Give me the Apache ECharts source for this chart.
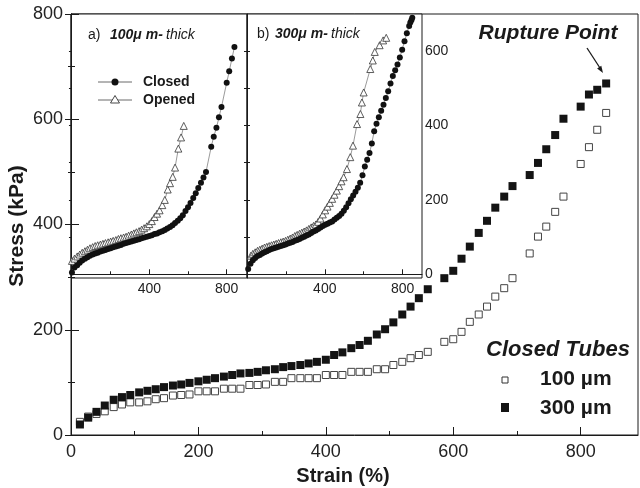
<!DOCTYPE html>
<html><head><meta charset="utf-8">
<script src="https://cdn.jsdelivr.net/npm/echarts@6/dist/echarts.min.js"></script>
<style>html,body{margin:0;padding:0;background:#fff}#c{width:640px;height:488px}</style>
</head><body><div id="c"></div>
<script>
// ---- main chart data (Closed tubes) ----
const strain = [14,27,40,53,67,80,93,107,120,133,146,160,173,186,200,213,226,240,253,266,280,293,306,320,333,346,360,373,386,400,413,426,440,453,466,480,493,506,520,533,546,560,586,600,613,626,640,653,666,680,693,720,733,746,760,773,800,813,826,840];
const stress100 = [25,35,40,45,53,58,62,62,64,68,70,75,76,77,83,83,83,88,88,88,95,95,96,101,101,108,108,108,108,114,114,114,120,120,120,125,125,133,139,146,152,158,177,182,196,215,229,244,263,279,298,345,377,396,424,453,515,547,580,612];
const stress300 = [20,33,44,56,67,72,76,81,84,87,91,94,96,99,102,105,108,111,114,117,118,120,123,125,129,131,133,136,139,143,152,157,165,171,179,191,201,214,229,244,260,277,298,312,335,358,384,407,432,453,473,494,517,543,570,601,624,647,656,668];
// ---- inset a) 100 um ----
const aClosedStrain = [0,13,27,40,53,67,80,93,107,120,133,147,160,173,187,200,213,227,240,253,267,280,293,307,320,333,347,360,373,387,400,413,427,440,453,467,480,493,507,520,533,547,560,573,587,600,613,627,640,653,667,680,693,720,733,747,760,773,800,813,827,840];
const aClosedStress = [5,18,24,31,37,42,46,50,53,56,58,61,63,65,68,70,73,75,77,79,82,84,86,88,90,92,94,97,99,101,103,105,108,110,113,116,119,123,127,132,138,144,151,159,170,180,192,205,218,232,246,260,275,343,370,394,422,450,515,546,580,611];
const aOpenStrain = [0,13,27,40,53,67,80,93,107,120,133,147,160,173,187,200,213,227,240,253,267,280,293,307,320,333,347,360,373,387,400,413,427,440,453,467,480,495,507,521,533,550,564,578];
const aOpenStress = [36,42,48,53,58,62,66,70,73,76,78,80,82,84,86,88,90,92,95,97,99,101,104,107,110,113,116,120,124,129,135,143,154,163,172,186,200,228,245,262,287,338,368,399];
// ---- inset b) 300 um ----
const bClosedStrain = [6,18,30,42,54,66,78,90,102,114,126,138,150,162,174,186,198,210,222,234,246,258,270,282,294,306,318,330,342,354,366,378,390,402,414,426,438,450,462,474,486,498,510,522,534,546,558,570,582,594,606,618,630,642,654,666,678,690,702,714,726,738,750,762,774,786,798,810,822,834,840,846,850];
const bClosedStress = [14,28,38,44,49,52,56,59,62,65,68,70,72,74,76,78,80,83,85,87,90,92,95,98,101,104,107,111,115,118,122,126,130,133,136,139,142,147,152,157,163,171,180,191,202,212,222,233,246,266,290,308,326,352,385,405,422,440,456,474,492,513,533,549,564,583,604,627,648,668,677,684,690];
const bOpenStrain = [20,30,42,54,66,78,90,102,114,126,138,150,162,174,186,198,210,222,234,246,258,270,282,294,306,318,330,342,354,366,378,390,402,414,426,438,450,462,474,486,497,514,531,545,566,583,591,600,634,647,657,682,700,716];
const bOpenStress = [50,55,59,63,66,69,72,74,76,78,80,82,84,86,88,90,93,96,99,103,106,109,112,115,118,122,126,130,134,141,150,161,172,182,192,203,214,225,237,250,261,283,315,346,404,431,462,489,552,575,598,616,629,636];
// ---- tick labels ----
const mainXTicks = [0,200,400,600,800];
const mainXMinor = [100,300,500,700];
const insetXTicks = [400,800];
const insetXMinor = [200,600];
const insetYLabels = [0,200,400,600];
const insetYTicks = [100,200,300,400,500,600];

const zip = (a, b) => a.map((v, i) => [v, b[i]]);
const FONT = 'Liberation Sans, Arial, sans-serif';
const ink = '#1a1a1a';

const chart = echarts.init(document.getElementById('c'));

function hiddenAxis(extra) {
  return Object.assign({
    type: 'value', axisLine: {show: false}, axisLabel: {show: false},
    axisTick: {show: false}, splitLine: {show: false}
  }, extra);
}

const option = {
  animation: false,
  backgroundColor: '#fff',
  grid: [
    {left: 71, top: 14, right: 2, bottom: 53, show: true, borderColor: ink, borderWidth: 1, backgroundColor: 'transparent'},
    {left: 71, top: 14, width: 176, height: 264, show: true, borderColor: ink, borderWidth: 1, backgroundColor: '#fff'},
    {left: 247, top: 14, width: 175, height: 264, show: true, borderColor: ink, borderWidth: 1, backgroundColor: '#fff'}
  ],
  xAxis: [
    {type: 'value', gridIndex: 0, min: 0, max: 890, position: 'bottom',
     axisLine: {show: true, lineStyle: {color: ink, width: 1}},
     axisTick: {show: true, inside: true, length: 8, customValues: [200,400,600,800], lineStyle: {color: ink}},
     axisLabel: {customValues: mainXTicks, fontSize: 18, color: '#222', fontFamily: FONT, margin: 8},
     splitLine: {show: false}},
    hiddenAxis({gridIndex: 0, min: 0, max: 890, position: 'bottom',
     axisTick: {show: true, inside: true, length: 4, customValues: mainXMinor, lineStyle: {color: ink}}}),
    {type: 'value', gridIndex: 1, min: -5, max: 905, position: 'bottom',
     axisLine: {show: true, lineStyle: {color: ink}},
     axisTick: {show: true, inside: true, length: 5, customValues: insetXTicks, lineStyle: {color: ink}},
     axisLabel: {customValues: insetXTicks, fontSize: 14, color: '#222', fontFamily: FONT, margin: 4},
     splitLine: {show: false}},
    hiddenAxis({gridIndex: 1, min: -5, max: 905, position: 'bottom',
     axisTick: {show: true, inside: true, length: 3, customValues: insetXMinor, lineStyle: {color: ink}}}),
    {type: 'value', gridIndex: 2, min: 0, max: 900, position: 'bottom',
     axisLine: {show: true, lineStyle: {color: ink}},
     axisTick: {show: true, inside: true, length: 5, customValues: insetXTicks, lineStyle: {color: ink}},
     axisLabel: {customValues: insetXTicks, fontSize: 14, color: '#222', fontFamily: FONT, margin: 4},
     splitLine: {show: false}},
    hiddenAxis({gridIndex: 2, min: 0, max: 900, position: 'bottom',
     axisTick: {show: true, inside: true, length: 3, customValues: insetXMinor, lineStyle: {color: ink}}})
  ],
  yAxis: [
    {type: 'value', gridIndex: 0, min: 0, max: 800, interval: 200, position: 'left',
     axisLine: {show: true, lineStyle: {color: ink}},
     axisTick: {show: true, inside: true, length: 8, lineStyle: {color: ink}},
     minorTick: {show: true, splitNumber: 2, length: 4, lineStyle: {color: ink}},
     axisLabel: {fontSize: 18, color: '#222', fontFamily: FONT, margin: 8},
     splitLine: {show: false}},
    {type: 'value', gridIndex: 0, min: 0, max: 800, interval: 200, position: 'right',
     axisLine: {show: true, lineStyle: {color: ink}},
     axisTick: {show: true, inside: true, length: 6, lineStyle: {color: ink}},
     minorTick: {show: true, splitNumber: 2, length: 3, lineStyle: {color: ink}},
     axisLabel: {show: false}, splitLine: {show: false}},
    hiddenAxis({gridIndex: 1, min: -10, max: 700, position: 'left'}),
    hiddenAxis({gridIndex: 1, min: -10, max: 700, position: 'right',
     axisTick: {show: true, inside: true, length: 3, customValues: insetYTicks, lineStyle: {color: ink}}}),
    hiddenAxis({gridIndex: 2, min: -10, max: 700, position: 'left',
     axisTick: {show: true, inside: true, length: 3, customValues: insetYTicks, lineStyle: {color: ink}}}),
    {type: 'value', gridIndex: 2, min: -10, max: 700, position: 'right',
     axisLine: {show: true, lineStyle: {color: ink}},
     axisTick: {show: true, inside: true, length: 3, customValues: insetYTicks, lineStyle: {color: ink}},
     axisLabel: {customValues: insetYLabels, fontSize: 14, color: '#222', fontFamily: FONT, margin: 3},
     splitLine: {show: false}}
  ],
  series: [
    {name: '100 µm', type: 'scatter', xAxisIndex: 0, yAxisIndex: 0, data: zip(strain, stress100),
     symbol: 'rect', symbolSize: 7, itemStyle: {color: '#fff', borderColor: '#444', borderWidth: 1, opacity: 1}},
    {name: '300 µm', type: 'scatter', xAxisIndex: 0, yAxisIndex: 0, data: zip(strain, stress300),
     symbol: 'rect', symbolSize: 8, itemStyle: {color: '#141414', opacity: 1}},
    {name: 'a Opened', type: 'line', xAxisIndex: 2, yAxisIndex: 2, data: zip(aOpenStrain, aOpenStress),
     symbol: 'triangle', symbolSize: 7, showSymbol: true, lineStyle: {color: '#555', width: 0.6},
     itemStyle: {color: '#fff', borderColor: '#333', borderWidth: 0.8, opacity: 1}},
    {name: 'a Closed', type: 'line', xAxisIndex: 2, yAxisIndex: 2, data: zip(aClosedStrain, aClosedStress),
     symbol: 'circle', symbolSize: 6, showSymbol: true, lineStyle: {color: '#555', width: 0.6},
     itemStyle: {color: '#111', opacity: 1}},
    {name: 'b Opened', type: 'line', xAxisIndex: 4, yAxisIndex: 4, data: zip(bOpenStrain, bOpenStress),
     symbol: 'triangle', symbolSize: 7, showSymbol: true, lineStyle: {color: '#555', width: 0.6},
     itemStyle: {color: '#fff', borderColor: '#333', borderWidth: 0.8, opacity: 1}},
    {name: 'b Closed', type: 'line', xAxisIndex: 4, yAxisIndex: 4, data: zip(bClosedStrain, bClosedStress),
     symbol: 'circle', symbolSize: 6, showSymbol: true, lineStyle: {color: '#555', width: 0.6},
     itemStyle: {color: '#111', opacity: 1}}
  ],
  graphic: [
    // axis titles
    {type: 'text', x: 343, y: 476, style: {text: 'Strain (%)', font: 'bold 20px ' + FONT, fill: ink, align: 'center', verticalAlign: 'middle'}},
    {type: 'text', x: 17, y: 226, rotation: Math.PI / 2, style: {text: 'Stress (kPa)', font: 'bold 21px ' + FONT, fill: ink, align: 'center', verticalAlign: 'middle'}},
    // inset titles
    {type: 'text', x: 88, y: 35, z: 10, style: {text: 'a)', font: '14px ' + FONT, fill: ink, verticalAlign: 'middle'}},
    {type: 'text', x: 110, y: 35, z: 10, style: {text: '100μ m-', font: 'italic bold 14px ' + FONT, fill: ink, verticalAlign: 'middle'}},
    {type: 'text', x: 166, y: 35, z: 10, style: {text: 'thick', font: 'italic 14px ' + FONT, fill: ink, verticalAlign: 'middle'}},
    {type: 'text', x: 257, y: 34, z: 10, style: {text: 'b)', font: '14px ' + FONT, fill: ink, verticalAlign: 'middle'}},
    {type: 'text', x: 275, y: 34, z: 10, style: {text: '300μ m-', font: 'italic bold 14px ' + FONT, fill: ink, verticalAlign: 'middle'}},
    {type: 'text', x: 331, y: 34, z: 10, style: {text: 'thick', font: 'italic 14px ' + FONT, fill: ink, verticalAlign: 'middle'}},
    // inset legend
    {type: 'line', z: 10, shape: {x1: 98, y1: 82, x2: 132, y2: 82}, style: {stroke: '#444', lineWidth: 0.8}},
    {type: 'circle', z: 10, shape: {cx: 115, cy: 82, r: 3.5}, style: {fill: '#111'}},
    {type: 'text', x: 143, y: 82, z: 10, style: {text: 'Closed', font: 'bold 14px ' + FONT, fill: ink, verticalAlign: 'middle'}},
    {type: 'line', z: 10, shape: {x1: 98, y1: 100, x2: 132, y2: 100}, style: {stroke: '#444', lineWidth: 0.8}},
    {type: 'polygon', z: 10, shape: {points: [[115, 95.5], [110.5, 103], [119.5, 103]]}, style: {fill: '#fff', stroke: '#333', lineWidth: 0.9}},
    {type: 'text', x: 143, y: 100, z: 10, style: {text: 'Opened', font: 'bold 14px ' + FONT, fill: ink, verticalAlign: 'middle'}},
    // rupture annotation
    {type: 'text', x: 548, y: 33, style: {text: 'Rupture Point', font: 'italic bold 21px ' + FONT, fill: ink, align: 'center', verticalAlign: 'middle'}},
    {type: 'line', shape: {x1: 587, y1: 48, x2: 600, y2: 68}, style: {stroke: ink, lineWidth: 1.3}},
    {type: 'polygon', shape: {points: [[603, 73], [597.1, 68.5], [601.3, 65.8]]}, style: {fill: ink}},
    // main legend
    {type: 'text', x: 558, y: 350, style: {text: 'Closed Tubes', font: 'italic bold 22px ' + FONT, fill: ink, align: 'center', verticalAlign: 'middle'}},
    {type: 'rect', shape: {x: 502, y: 377, width: 6, height: 6}, style: {fill: '#fff', stroke: '#333', lineWidth: 1}},
    {type: 'text', x: 540, y: 379, style: {text: '100 µm', font: 'bold 21px ' + FONT, fill: ink, verticalAlign: 'middle'}},
    {type: 'rect', shape: {x: 501, y: 403, width: 8, height: 9}, style: {fill: '#141414'}},
    {type: 'text', x: 540, y: 408, style: {text: '300 µm', font: 'bold 21px ' + FONT, fill: ink, verticalAlign: 'middle'}}
  ]
};
chart.setOption(option);
</script>
</body></html>
